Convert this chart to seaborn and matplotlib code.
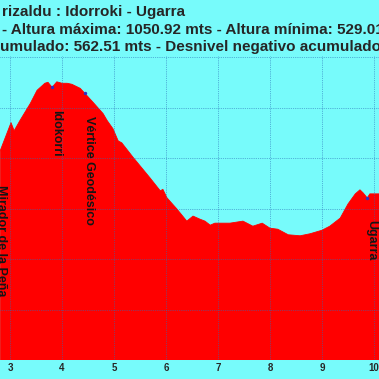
import matplotlib
matplotlib.use("Agg")
import matplotlib.pyplot as plt
import seaborn as sns

# profile (km, metres)
km = [2.81, 3.02, 3.08, 3.19, 3.39, 3.52, 3.67, 3.73, 3.81, 3.90, 4.00, 4.10, 4.19,
      4.35, 4.44, 4.60, 4.79, 4.87, 4.98, 5.08, 5.15, 5.37, 5.69, 5.89, 5.94, 6.02,
      6.21, 6.40, 6.52, 6.65, 6.75, 6.85, 6.94, 7.23, 7.48, 7.67, 7.85, 8.00, 8.15,
      8.35, 8.58, 8.77, 9.00, 9.15, 9.35, 9.50, 9.64, 9.73, 9.79, 9.87, 9.92, 10.10]
elev = [914, 970, 954, 974, 1008, 1034, 1048, 1050, 1040, 1050.9, 1048, 1048, 1046,
        1038, 1028, 1010, 988, 974, 958, 934, 930, 901, 861, 835, 838, 821,
        799, 775, 785, 779, 775, 767, 771, 771, 775, 765, 771, 761, 759,
        748, 746, 750, 757, 765, 781, 809, 829, 837, 831, 821, 829, 829]

wp_names = ["Mirador de la Peña", "Idokorri", "Vértice Geodésico", "Ugarra"]
wp_km = [2.75, 3.81, 4.44, 9.87]
wp_elev = [891, 1040, 1028, 821]

title_lines = ["rizaldu : Idorroki - Ugarra",
               "- Altura máxima: 1050.92 mts - Altura mínima: 529.01 mts",
               "umulado: 562.51 mts - Desnivel negativo acumulado:"]

bg = "#77fbfb"
sns.set_style("white")
plt.rcParams["font.family"] = ["Liberation Sans", "DejaVu Sans"]

fig = plt.figure(figsize=(3.79, 3.79), dpi=100, facecolor=bg)
ax = fig.add_axes([0, 19 / 379, 1, 304 / 379])
ax.set_facecolor(bg)

ax.fill_between(km, elev, 500, color="red", lw=0, zorder=1)
sns.lineplot(x=km, y=elev, color="red", lw=0.6, ax=ax, zorder=2)
sns.scatterplot(x=wp_km[1:], y=wp_elev[1:], color="#3030c0", s=6, linewidth=0, ax=ax, zorder=4)

for name, x, y in zip(wp_names, wp_km, wp_elev):
    ax.annotate(name, (x, y), xytext=(3, -16), textcoords="offset points",
                rotation=270, ha="center", va="top", fontsize=9, fontweight="bold",
                color="#151515", annotation_clip=False, zorder=5)

ax.set_xlim(2.8077, 10.096)
ax.set_ylim(500, 1102)
ax.set_xticks(range(3, 11))
ax.set_xticklabels([str(i) for i in range(3, 11)], fontsize=7, fontweight="bold")
ax.set_yticks(range(500, 1101, 100))
ax.set_yticklabels([])
ax.tick_params(length=0, pad=2)
ax.grid(True, color="#2a6fb8", lw=0.5, ls=":", zorder=3)
ax.set_axisbelow(False)
for s in ax.spines.values():
    s.set_visible(False)

for i, line in enumerate(title_lines):
    fig.text(2 / 379 if i < 2 else 0, 1 - (12 + 17.5 * i) / 379, line,
             ha="left", va="center", fontsize=11, fontweight="bold")

fig.savefig("out.png", dpi=100, facecolor=bg)
